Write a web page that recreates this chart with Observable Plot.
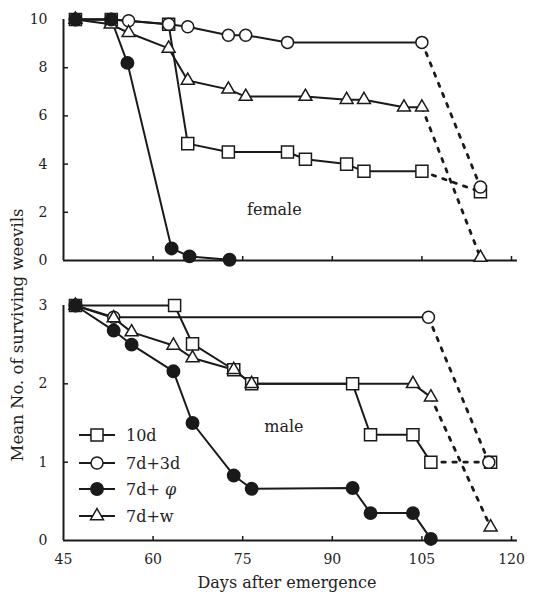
<!DOCTYPE html>
<html><head><meta charset="utf-8">
<script src="https://cdn.jsdelivr.net/npm/d3@7"></script>
<script src="https://cdn.jsdelivr.net/npm/@observablehq/plot@0.6"></script>
<style>
html,body{margin:0;padding:0;background:#fff;}
#chart{position:relative;width:538px;height:595px;font-family:"DejaVu Serif",serif;color:#222;overflow:hidden;}
#chart svg{position:absolute;left:0;}
.ylab{position:absolute;left:18px;top:335px;transform:translate(-50%,-50%) rotate(-90deg);white-space:nowrap;font-size:16.5px;line-height:18px;}
.xlab{position:absolute;left:287px;top:575px;transform:translateX(-50%);white-space:nowrap;font-size:16px;line-height:16px;}
</style></head>
<body><div id="chart"></div>
<script>
// ---- data ----
const seriesNames = ["10d", "7d+3d", "7d+ φ", "7d+w"];
const xTicks = [45, 60, 75, 90, 105, 120];
const femaleYTicks = [0, 2, 4, 6, 8, 10];
const maleYTicks = [0, 1, 2, 3];

// female panel
const f10dDays = [47, 53, 62.6, 65.8, 72.6, 82.5, 85.5, 92.4, 95.3, 105];
const f10dVals = [10, 10, 9.8, 4.85, 4.5, 4.5, 4.2, 4.0, 3.7, 3.7];
const f3dDays = [47, 53, 55.9, 62.6, 65.8, 72.6, 75.5, 82.5, 105];
const f3dVals = [10, 10, 9.95, 9.8, 9.7, 9.35, 9.35, 9.05, 9.05];
const fPhiDays = [47, 53, 55.7, 63.1, 66.1, 72.8];
const fPhiVals = [10, 10, 8.2, 0.5, 0.17, 0.03];
const fWDays = [47, 52.9, 55.9, 62.6, 65.8, 72.6, 75.5, 85.5, 92.4, 95.3, 102, 105];
const fWVals = [10, 9.8, 9.45, 8.8, 7.47, 7.1, 6.8, 6.8, 6.67, 6.67, 6.36, 6.36];
const fEndDays = [114.8, 114.8, null, 114.8];
const fEndVals = [2.85, 3.05, null, 0.12];

// male panel
const m10dDays = [47, 63.6, 66.6, 73.5, 76.5, 93.4, 96.4, 103.5, 106.5];
const m10dVals = [3, 3, 2.51, 2.18, 2.0, 2.0, 1.35, 1.35, 1.0];
const m3dDays = [47, 53.4, 106.1];
const m3dVals = [3, 2.85, 2.85];
const mPhiDays = [47, 53.4, 56.4, 63.4, 66.6, 73.5, 76.5, 93.4, 96.4, 103.5, 106.5];
const mPhiVals = [3, 2.68, 2.5, 2.16, 1.5, 0.83, 0.66, 0.67, 0.35, 0.35, 0.02];
const mWDays = [47, 53.4, 56.4, 63.4, 66.6, 73.5, 76.5, 103.5, 106.5];
const mWVals = [3, 2.84, 2.66, 2.49, 2.33, 2.18, 2.0, 2.0, 1.83];
const mEndDays = [116.5, 116.2, null, 116.5];
const mEndVals = [1.0, 1.0, null, 0.17];

const femaleLabel = [{x: 80.3, y: 2.1, text: "female"}];
const maleLabel = [{x: 81.9, y: 1.45, text: "male"}];

// ---- styling ----
const FONT = "DejaVu Serif";
const INK = "#1a1a1a";
const symbols = ["square", "circle", "circle", "triangle"];
const fills = ["white", "white", INK, "white"];
const radii = [6.8, 6.0, 6.2, 4.8];
const drawOrder = [0, 1, 3, 2];

function rows(days, vals, s) { return days.map((d, i) => ({day: d, n: vals[i], s})); }

function buildPanel(series, endDays, endVals, yTicks, yMax, label, opts) {
  const marks = [];
  const plotW = 538 - opts.ml - opts.mr;
  const plotH = opts.h - opts.mt - opts.mb;
  marks.push(Plot.ruleX([45], {stroke: INK, strokeWidth: 2}));
  marks.push(Plot.ruleY([0], {x1: 45, x2: 121, stroke: INK, strokeWidth: 2}));
  marks.push(Plot.tickY(yTicks.filter(t => t > 0 && t < yMax), {y: d => d, stroke: INK, strokeWidth: 1.5, insetRight: plotW - 5}));
  marks.push(Plot.tickX(xTicks.filter(t => t > 45), {x: d => d, stroke: INK, strokeWidth: 1.5, insetTop: plotH - 4}));
  series.forEach((pts, s) => {
    if (endDays[s] == null) return;
    const last = pts[pts.length - 1];
    marks.push(Plot.line([last, {day: endDays[s], n: endVals[s]}], {x: "day", y: "n", stroke: INK, strokeWidth: 2.8, strokeDasharray: "3.5,7.5"}));
  });
  series.forEach(pts => marks.push(Plot.line(pts, {x: "day", y: "n", stroke: INK, strokeWidth: 2})));
  drawOrder.forEach(s => {
    const pts = series[s].slice();
    if (endDays[s] != null) pts.push({day: endDays[s], n: endVals[s], s});
    marks.push(Plot.dot(pts, {x: "day", y: "n", symbol: () => symbols[s], r: radii[s], fill: fills[s], stroke: INK, strokeWidth: 1.5}));
  });
  marks.push(Plot.axisY(yTicks, {tickSize: 0, tickPadding: 16, fontSize: 14, label: null, tickFormat: d => String(d)}));
  if (opts.showX) marks.push(Plot.axisX(xTicks, {tickSize: 0, tickPadding: 14, fontSize: 14, label: null, tickFormat: d => String(d)}));
  marks.push(Plot.text(label, {x: "x", y: "y", text: "text", fontSize: 16}));
  return Plot.plot({
    width: 538, height: opts.h,
    marginLeft: opts.ml, marginRight: opts.mr, marginTop: opts.mt, marginBottom: opts.mb,
    x: {domain: [45, 120], axis: opts.showX ? undefined : null},
    y: {domain: [0, yMax]},
    symbol: {type: "identity"},
    style: {fontFamily: FONT, fontSize: "14px", color: "#222", background: "transparent", overflow: "visible"},
    marks
  });
}

const femaleSeries = [rows(f10dDays, f10dVals, 0), rows(f3dDays, f3dVals, 1), rows(fPhiDays, fPhiVals, 2), rows(fWDays, fWVals, 3)];
const maleSeries = [rows(m10dDays, m10dVals, 0), rows(m3dDays, m3dVals, 1), rows(mPhiDays, mPhiVals, 2), rows(mWDays, mWVals, 3)];

const chartEl = document.getElementById("chart");
const topPanel = buildPanel(femaleSeries, fEndDays, fEndVals, femaleYTicks, 10, femaleLabel, {h: 275, ml: 63, mr: 27, mt: 19, mb: 15, showX: false});
topPanel.style.top = "0px";
chartEl.appendChild(topPanel);
const botPanel = buildPanel(maleSeries, mEndDays, mEndVals, maleYTicks, 3, maleLabel, {h: 315, ml: 63, mr: 27, mt: 25, mb: 55, showX: true});
botPanel.style.top = "280px";
chartEl.appendChild(botPanel);

// legend
const leg = d3.select(chartEl).append("svg").attr("width", 140).attr("height", 110)
  .style("left", "75px").style("top", "421px").style("position", "absolute");
const rowY = [14, 42, 68, 95];
const d3sym = {square: d3.symbolSquare, circle: d3.symbolCircle, triangle: d3.symbolTriangle};
seriesNames.forEach((name, i) => {
  const g = leg.append("g").attr("transform", `translate(0,${rowY[i]})`);
  g.append("line").attr("x1", 4).attr("x2", 40).attr("y1", 0).attr("y2", 0).attr("stroke", INK).attr("stroke-width", 2);
  g.append("path").attr("transform", "translate(22,0)")
    .attr("d", d3.symbol(d3sym[symbols[i]], Math.PI * radii[i] * radii[i])())
    .attr("fill", fills[i]).attr("stroke", INK).attr("stroke-width", 1.5);
  const t = g.append("text").attr("x", 51).attr("y", 0).attr("dy", "0.36em")
    .attr("font-family", FONT).attr("font-size", 16).attr("fill", "#222");
  if (name.includes("φ")) {
    t.append("tspan").text("7d+ ");
    t.append("tspan").attr("font-style", "italic").text("φ");
  } else t.text(name);
});

const yl = document.createElement("div"); yl.className = "ylab"; yl.textContent = "Mean No. of surviving weevils"; chartEl.appendChild(yl);
const xl = document.createElement("div"); xl.className = "xlab"; xl.textContent = "Days after emergence"; chartEl.appendChild(xl);
</script>
</body></html>
